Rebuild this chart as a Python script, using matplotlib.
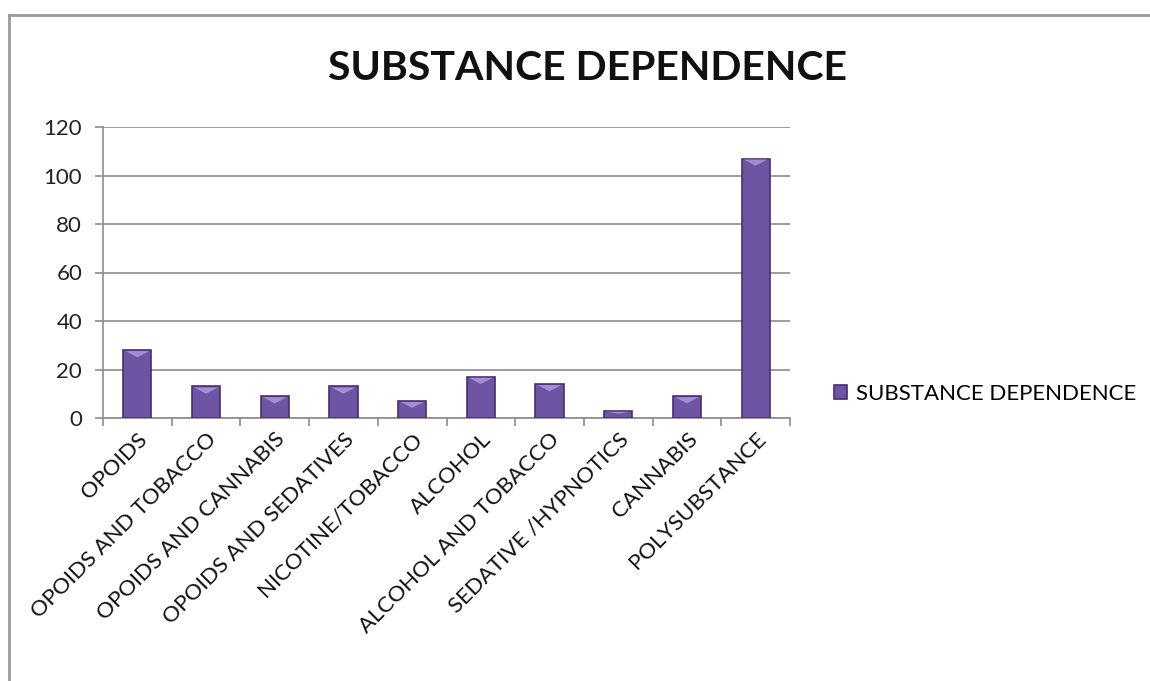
import matplotlib.pyplot as plt
import numpy as np
from matplotlib.lines import Line2D
from matplotlib.patches import Polygon

categories = ["OPOIDS", "OPOIDS AND TOBACCO", "OPOIDS AND CANNABIS", "OPOIDS AND SEDATIVES",
              "NICOTINE/TOBACCO", "ALCOHOL", "ALCOHOL AND TOBACCO", "SEDATIVE /HYPNOTICS",
              "CANNABIS", "POLYSUBSTANCE"]
values = [28, 13, 9, 13, 7, 17, 14, 3, 9, 107]
series_name = "SUBSTANCE DEPENDENCE"
yticks = [0, 20, 40, 60, 80, 100, 120]

plt.rcParams['font.family'] = ['Lato', 'DejaVu Sans']

fig = plt.figure(figsize=(11.5, 6.81), dpi=100)
ax = fig.add_axes([103/1150, 1-418/681, 687/1150, (418-127)/681])

x = np.arange(len(categories))
bars = ax.bar(x, values, width=0.41, color="#6F54A3", edgecolor="#46306E", linewidth=1.2,
              label=series_name, zorder=3)
# bevel highlight on top of each bar
for b in bars:
    bx, bw, bh = b.get_x(), b.get_width(), b.get_height()
    cap = min(3.0, bh * 0.4)
    tri = Polygon([[bx + bw*0.08, bh - 0.4], [bx + bw*0.92, bh - 0.4], [bx + bw*0.5, bh - cap]],
                  closed=True, facecolor="#A68BD6", edgecolor="none", zorder=4)
    ax.add_patch(tri)

ax.set_xlim(-0.5, len(categories) - 0.5)
ax.set_ylim(0, 120)
ax.set_yticks(yticks)
ax.set_yticklabels([str(t) for t in yticks], fontsize=16, color="#222222")
ax.yaxis.grid(True, color="#8C8C8C", linewidth=1.2, zorder=0)
ax.set_axisbelow(True)

ax.set_xticks(np.arange(-0.5, len(categories), 1.0), minor=False)
ax.set_xticklabels([])
ax.set_xticks(x, minor=True)
ax.set_xticklabels(categories, minor=True, rotation=45, ha='right', rotation_mode='anchor',
                   fontsize=16, color="#111111")
ax.tick_params(axis='x', which='minor', length=0, pad=8)
ax.tick_params(axis='x', which='major', length=6, color="#8C8C8C", width=1.2)
ax.tick_params(axis='y', length=6, color="#8C8C8C", width=1.2, pad=9)

for s in ['top', 'right']:
    ax.spines[s].set_visible(False)
for s in ['left', 'bottom']:
    ax.spines[s].set_color("#8C8C8C")
    ax.spines[s].set_linewidth(1.2)

fig.text(587/1150, 1-68/681, "SUBSTANCE DEPENDENCE", ha='center', va='center',
         fontsize=29.5, fontweight='bold', color="#111111")

leg = fig.legend(handles=[bars], labels=[series_name], loc='center left',
                 bbox_to_anchor=(814/1150, 1-394/681), frameon=False, fontsize=16,
                 handlelength=0.6, handleheight=0.6, handletextpad=0.4)

# outer frame lines (top and left)
fig.add_artist(Line2D([9/1150, 1.0], [1-15/681, 1-15/681], transform=fig.transFigure,
                      color="#9A9A9A", linewidth=2))
fig.add_artist(Line2D([9/1150, 9/1150], [1-15/681, 0.0], transform=fig.transFigure,
                      color="#9A9A9A", linewidth=2))

fig.savefig("out.png", dpi=100)
